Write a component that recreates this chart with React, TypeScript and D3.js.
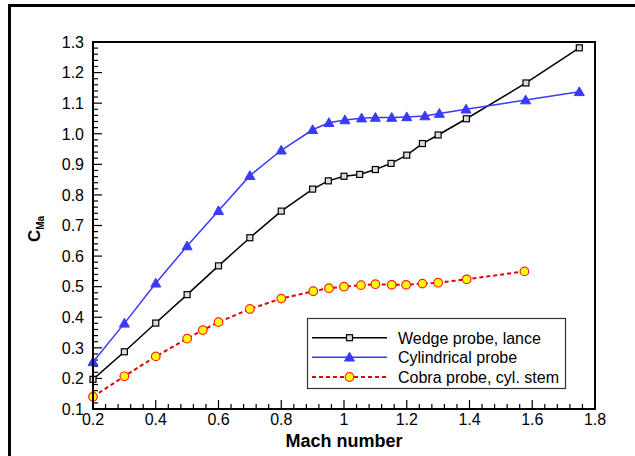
import React from "react";
import * as d3 from "d3";

const wedgeMach = [0.2, 0.3, 0.4, 0.5, 0.6, 0.7, 0.8, 0.9, 0.95, 1.0, 1.05, 1.1, 1.15, 1.2, 1.25, 1.3, 1.39, 1.58, 1.75];
const wedgeC = [0.197, 0.287, 0.381, 0.474, 0.568, 0.66, 0.747, 0.819, 0.846, 0.861, 0.867, 0.883, 0.903, 0.93, 0.968, 0.996, 1.049, 1.166, 1.281];

const cylMach = [0.2, 0.3, 0.4, 0.5, 0.6, 0.7, 0.8, 0.9, 0.952, 1.003, 1.056, 1.1, 1.152, 1.2, 1.258, 1.304, 1.389, 1.579, 1.75];
const cylC = [0.254, 0.38, 0.511, 0.633, 0.748, 0.863, 0.946, 1.013, 1.036, 1.045, 1.051, 1.053, 1.053, 1.055, 1.058, 1.066, 1.08, 1.11, 1.137];

const cobraMach = [0.2, 0.3, 0.4, 0.5, 0.55, 0.6, 0.7, 0.8, 0.902, 0.952, 1.0, 1.054, 1.1, 1.152, 1.198, 1.25, 1.3, 1.391, 1.575];
const cobraC = [0.14, 0.207, 0.272, 0.33, 0.358, 0.384, 0.427, 0.461, 0.485, 0.495, 0.5, 0.505, 0.508, 0.506, 0.506, 0.51, 0.513, 0.524, 0.55];

const xTicks = [0.2, 0.4, 0.6, 0.8, 1.0, 1.2, 1.4, 1.6, 1.8];
const xTickLabels = ["0.2", "0.4", "0.6", "0.8", "1", "1.2", "1.4", "1.6", "1.8"];
const yTicks = [0.1, 0.2, 0.3, 0.4, 0.5, 0.6, 0.7, 0.8, 0.9, 1.0, 1.1, 1.2, 1.3];
const legendLabels = ["Wedge probe, lance", "Cylindrical probe", "Cobra probe, cyl. stem"];

const W = 635;
const H = 456;
const left = 93, right = 595, top = 42, bottom = 409;
const FONT = "'Liberation Sans', Arial, sans-serif";
const BLUE = "#3a3aff";

export default function App() {
  const x = d3.scaleLinear().domain([0.2, 1.8]).range([left, right]);
  const y = d3.scaleLinear().domain([0.1, 1.3]).range([bottom, top]);
  const line = d3.line<[number, number]>().x(d => x(d[0])).y(d => y(d[1]));

  const wedge = wedgeMach.map((m, i) => [m, wedgeC[i]] as [number, number]);
  const cyl = cylMach.map((m, i) => [m, cylC[i]] as [number, number]);
  const cobra = cobraMach.map((m, i) => [m, cobraC[i]] as [number, number]);

  const xMinor = d3.range(0, 41).map(i => 0.2 + i * 0.04).filter(v => v <= 1.8001);
  const yMinor = d3.range(0, 61).map(i => 0.1 + i * 0.02).filter(v => v <= 1.3001);

  const tri = (cx: number, cy: number, s = 5) =>
    `M${cx},${cy - s} L${cx + s},${cy + s * 0.75} L${cx - s},${cy + s * 0.75} Z`;

  const square = (cx: number, cy: number, key: any) => (
    <rect key={key} x={cx - 3} y={cy - 3} width={6} height={6} fill="#ddd" stroke="#000" strokeWidth={1.2} />
  );
  const circle = (cx: number, cy: number, key: any) => (
    <circle key={key} cx={cx} cy={cy} r={4.3} fill="#ffff00" stroke="#ff2020" strokeWidth={1.2} />
  );
  const triangle = (cx: number, cy: number, key: any) => (
    <path key={key} d={tri(cx, cy)} fill={BLUE} stroke={BLUE} strokeWidth={1} />
  );

  const legRows = [337.7, 357.3, 377];

  return (
    <svg width={W} height={H} style={{ position: "absolute", left: 0, top: 0, background: "#fff" }} fontFamily={FONT}>
      <rect x={0} y={0} width={W} height={H} fill="#fff" />
      {/* outer frame */}
      <rect x={9.5} y={5.5} width={W + 20} height={H + 20} fill="none" stroke="#000" strokeWidth={3} />

      {/* ticks */}
      {xMinor.map((v, i) => {
        const major = Math.abs(((v - 0.2) / 0.2) - Math.round((v - 0.2) / 0.2)) < 1e-6;
        return <line key={"xm" + i} x1={x(v)} x2={x(v)} y1={bottom} y2={bottom - (major ? 9 : 5)} stroke="#000" strokeWidth={1.2} />;
      })}
      {yMinor.map((v, i) => {
        const major = Math.abs(((v - 0.1) / 0.1) - Math.round((v - 0.1) / 0.1)) < 1e-6;
        return <line key={"ym" + i} x1={left} x2={left + (major ? 9 : 5)} y1={y(v)} y2={y(v)} stroke="#000" strokeWidth={1.2} />;
      })}

      {/* tick labels */}
      {xTicks.map((v, i) => (
        <text key={"xl" + i} x={x(v)} y={425} textAnchor="middle" fontSize={16} fill="#000">{xTickLabels[i]}</text>
      ))}
      {yTicks.map((v, i) => (
        <text key={"yl" + i} x={84} y={y(v) + 5.8} textAnchor="end" fontSize={16} fill="#000">{v.toFixed(1)}</text>
      ))}

      {/* axis titles */}
      <text x={344} y={447} textAnchor="middle" fontSize={18} fontWeight="bold" fill="#000">Mach number</text>
      <text transform="translate(40,242) rotate(-90)" fontWeight="bold" fill="#000">
        <tspan fontSize={17}>C</tspan>
        <tspan fontSize={10} dy={4}>Ma</tspan>
      </text>

      {/* series */}
      <path d={line(wedge) || ""} fill="none" stroke="#000" strokeWidth={1.5} />
      <path d={line(cyl) || ""} fill="none" stroke={BLUE} strokeWidth={1.5} />
      <path d={line(cobra) || ""} fill="none" stroke="#e00000" strokeWidth={2} strokeDasharray="4,3" />
      {wedge.map((d, i) => square(x(d[0]), y(d[1]), "s" + i))}
      {cyl.map((d, i) => triangle(x(d[0]), y(d[1]), "t" + i))}
      {cobra.map((d, i) => circle(x(d[0]), y(d[1]), "c" + i))}

      {/* plot frame */}
      <rect x={left} y={top} width={right - left} height={bottom - top} fill="none" stroke="#000" strokeWidth={2} />

      {/* legend */}
      <rect x={307.5} y={318.5} width={258} height={70} fill="#fff" stroke="#333" strokeWidth={1.2} />
      <line x1={312} x2={387} y1={legRows[0]} y2={legRows[0]} stroke="#000" strokeWidth={1.5} />
      {square(349.5, legRows[0], "ls")}
      <line x1={312} x2={387} y1={legRows[1]} y2={legRows[1]} stroke={BLUE} strokeWidth={1.5} />
      {triangle(349.5, legRows[1], "lt")}
      <line x1={312} x2={387} y1={legRows[2]} y2={legRows[2]} stroke="#e00000" strokeWidth={2} strokeDasharray="4,3" />
      {circle(349.5, legRows[2], "lc")}
      {legendLabels.map((t, i) => (
        <text key={"lg" + i} x={398} y={legRows[i] + 5.8} fontSize={16} fill="#000">{t}</text>
      ))}
    </svg>
  );
}
